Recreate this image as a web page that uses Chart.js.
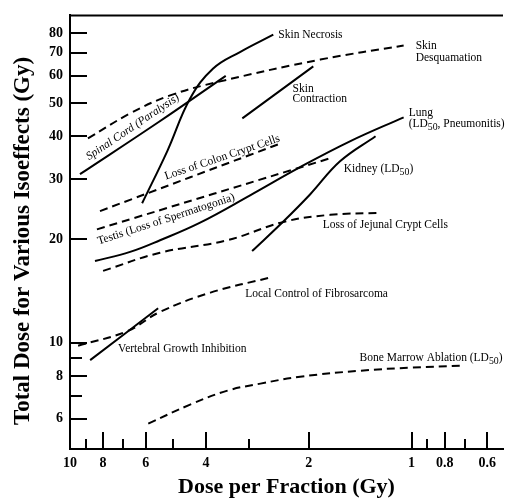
<!DOCTYPE html>
<html>
<head>
<meta charset="utf-8">
<script src="https://cdn.jsdelivr.net/npm/chart.js@4.4.1/dist/chart.umd.min.js"></script>
<style>
  html, body { margin: 0; padding: 0; background: #fff; }
</style>
</head>
<body>
<canvas id="isoGraph" width="506" height="501"></canvas>
<script>
// axis ticks
var xTicks = [10, 9, 8, 7, 6, 5, 4, 3, 2, 1, 0.9, 0.8, 0.7, 0.6];
var xTickLabels = [10, 8, 6, 4, 2, 1, 0.8, 0.6];
var yTicks = [6, 7, 8, 9, 10, 20, 30, 40, 50, 60, 70, 80];
var yTickLabels = [6, 8, 10, 20, 30, 40, 50, 60, 70, 80];

// curves, [dose per fraction (Gy), total dose (Gy)]
var spinalCord = [[9.35, 31], [5.5, 44], [3.5, 60]];
var skinDesquamation = [[8.86, 39.4], [6.67, 46.6], [5.09, 52.6], [3.63, 57.8], [1.85, 66.9], [1.055, 73.5]];
var skinNecrosis = [[6.15, 25.5], [5.19, 36.2], [4.45, 51.5], [3.81, 63], [3.17, 70.5], [2.54, 79.1]];
var skinContraction = [[3.13, 45.1], [1.94, 63.9]];
var colonCrypt = [[8.17, 24.2], [2.42, 38.1]];
var testis = [[8.34, 21.4], [1.73, 34.5]];
var lung = [[8.45, 17.3], [6.67, 18.4], [5.45, 19.9], [4.16, 22.4], [2.97, 26.9], [2.12, 32.5], [1.51, 38.7], [1.055, 45.4]];
var kidney = [[2.93, 18.5], [2.37, 22.6], [1.98, 27.1], [1.62, 33.8], [1.275, 40]];
var jejunalCrypt = [[8.0, 16.2], [5.45, 18.3], [3.46, 19.9], [2.37, 22.5], [1.73, 23.6], [1.23, 23.9]];
var fibrosarcoma = [[9.47, 9.8], [6.81, 10.8], [5.45, 12.3], [3.88, 14.0], [2.59, 15.5]];
var vertebral = [[8.73, 8.9], [5.52, 12.6]];
var boneMarrow = [[5.9, 5.81], [4.45, 6.6], [3.46, 7.25], [2.77, 7.6], [2.12, 7.96], [1.41, 8.29], [1.0, 8.46], [0.718, 8.57]];

// labels: text, x, y (data units)
var labels = [
  ['Skin Necrosis', 2.455, 79.1],
  ['Skin', 0.973, 73.5],
  ['Desquamation', 0.973, 67.4],
  ['Skin', 2.23, 55.1],
  ['Contraction', 2.23, 51.2],
  ['Lung', 1.02, 46.6],
  ['(LD{50}, Pneumonitis)', 1.02, 43.3],
  ['Kidney (LD{50})', 1.58, 32.0],
  ['Loss of Jejunal Crypt Cells', 1.82, 22.0],
  ['Local Control of Fibrosarcoma', 3.07, 13.9],
  ['Vertebral Growth Inhibition', 7.23, 9.6],
  ['Bone Marrow Ablation (LD{50})', 1.42, 9.05]
];
// slanted labels: text, x, y (centre, data units), angle, italic
var slantLabels = [
  ['Spinal Cord (Paralysis)', 6.55, 42.5, -34, true],
  ['Loss of Colon Crypt Cells', 3.58, 34.7, -18.5, false],
  ['Testis (Loss of Spermatogonia)', 5.23, 22.9, -18, false]
];

function pts(arr) {
  return arr.map(function (p) { return { x: p[0], y: p[1] }; });
}
function line(arr, dashed) {
  return {
    data: pts(arr),
    showLine: true,
    borderColor: '#000',
    borderWidth: 2,
    borderDash: dashed ? [8, 5] : [],
    pointRadius: 0,
    tension: 0.4,
    fill: false
  };
}

var serif = '"Liberation Serif", "DejaVu Serif", serif';
var labelSize = 11.5;

function drawRich(ctx, text, x, y, size) {
  var parts = text.split(/\{(\d+)\}/);
  var cx = x;
  for (var i = 0; i < parts.length; i++) {
    if (!parts[i]) continue;
    if (i % 2 === 1) {
      ctx.font = (size * 0.85) + 'px ' + serif;
      ctx.fillText(parts[i], cx, y + size * 0.3);
    } else {
      ctx.font = size + 'px ' + serif;
      ctx.fillText(parts[i], cx, y);
    }
    cx += ctx.measureText(parts[i]).width;
  }
}

var decorPlugin = {
  id: 'decor',
  afterDraw: function (chart) {
    var ctx = chart.ctx, a = chart.chartArea;
    var xs = chart.scales.x, ys = chart.scales.y;
    ctx.save();
    ctx.strokeStyle = '#000';
    ctx.lineWidth = 2;
    // top frame line
    ctx.beginPath();
    ctx.moveTo(a.left, a.top);
    ctx.lineTo(a.right, a.top);
    ctx.stroke();
    // inward ticks
    yTicks.forEach(function (v) {
      var py = Math.round(ys.getPixelForValue(v));
      var len = yTickLabels.indexOf(v) >= 0 ? 17 : 12;
      ctx.beginPath();
      ctx.moveTo(a.left, py);
      ctx.lineTo(a.left + len, py);
      ctx.stroke();
    });
    xTicks.forEach(function (v) {
      var px = Math.round(xs.getPixelForValue(v));
      var len = xTickLabels.indexOf(v) >= 0 ? 17 : 10;
      ctx.beginPath();
      ctx.moveTo(px, a.bottom);
      ctx.lineTo(px, a.bottom - len);
      ctx.stroke();
    });
    // y axis title
    ctx.fillStyle = '#000';
    ctx.save();
    ctx.translate(23, 241);
    ctx.rotate(-Math.PI / 2);
    ctx.textAlign = 'center';
    ctx.textBaseline = 'middle';
    ctx.font = 'bold 23px ' + serif;
    ctx.fillText('Total Dose for Various Isoeffects (Gy)', 0, 0);
    ctx.restore();
    // curve labels
    ctx.fillStyle = '#000';
    ctx.textBaseline = 'middle';
    ctx.textAlign = 'left';
    labels.forEach(function (l) {
      drawRich(ctx, l[0], xs.getPixelForValue(l[1]), ys.getPixelForValue(l[2]), labelSize);
    });
    slantLabels.forEach(function (l) {
      ctx.save();
      ctx.translate(xs.getPixelForValue(l[1]), ys.getPixelForValue(l[2]));
      ctx.rotate(l[3] * Math.PI / 180);
      ctx.textAlign = 'center';
      ctx.font = (l[4] ? 'italic ' : '') + labelSize + 'px ' + serif;
      ctx.fillText(l[0], 0, 0);
      ctx.restore();
    });
    ctx.restore();
  }
};

var ctx = document.getElementById('isoGraph');
var myChart = new Chart(ctx, {
  type: 'scatter',
  data: {
    datasets: [
      line(spinalCord, false),
      line(skinDesquamation, true),
      line(skinNecrosis, false),
      line(skinContraction, false),
      line(colonCrypt, true),
      line(testis, true),
      line(lung, false),
      line(kidney, false),
      line(jejunalCrypt, true),
      line(fibrosarcoma, true),
      line(vertebral, false),
      line(boneMarrow, true)
    ]
  },
  options: {
    responsive: false,
    animation: false,
    layout: { padding: { left: 0, right: 3, top: 13, bottom: 0 } },
    plugins: { legend: { display: false }, tooltip: { enabled: false } },
    scales: {
      x: {
        type: 'logarithmic',
        reverse: true,
        min: 0.54,
        max: 10,
        afterBuildTicks: function (s) { s.ticks = xTicks.map(function (v) { return { value: v }; }); },
        afterFit: function (s) { s.height = 52; },
        grid: { display: false, drawTicks: false },
        border: { display: true, color: '#000', width: 2 },
        ticks: {
          autoSkip: false,
          maxRotation: 0,
          padding: 6,
          color: '#000',
          font: { family: serif, size: 14, weight: 'bold' },
          callback: function (v) { return xTickLabels.indexOf(v) >= 0 ? String(v) : ''; }
        },
        title: {
          display: true,
          text: 'Dose per Fraction (Gy)',
          color: '#000',
          padding: { top: 0, bottom: 0 },
          font: { family: serif, size: 22, weight: 'bold' }
        }
      },
      y: {
        type: 'logarithmic',
        min: 4.9,
        max: 90,
        afterBuildTicks: function (s) { s.ticks = yTicks.map(function (v) { return { value: v }; }); },
        afterFit: function (s) { s.width = 70; },
        grid: { display: false, drawTicks: false },
        border: { display: true, color: '#000', width: 2 },
        ticks: {
          autoSkip: false,
          padding: 7,
          color: '#000',
          font: { family: serif, size: 14, weight: 'bold' },
          callback: function (v) { return yTickLabels.indexOf(v) >= 0 ? String(v) : ''; }
        },
        title: { display: false }
      }
    }
  },
  plugins: [decorPlugin]
});
</script>
</body>
</html>
